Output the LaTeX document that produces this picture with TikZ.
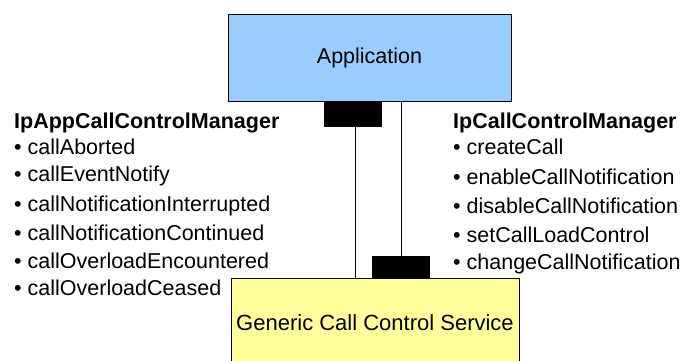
\documentclass[tikz,border=0pt]{standalone}
\usepackage{fontspec}
\setmainfont{Liberation Sans}
\begin{document}
\begin{tikzpicture}[x=1pt,y=-1pt,
  every node/.style={font=\fontsize{21.5}{25}\selectfont},
  box/.style={draw=black, line width=0.9pt, inner sep=0pt},
  port/.style={fill=black, draw=none, inner sep=0pt, minimum width=58pt},
  link/.style={draw=black, line width=1pt},
  item/.style={anchor=base west, inner sep=0pt},
  head/.style={anchor=base west, inner sep=0pt, font=\fontsize{21.5}{25}\selectfont\bfseries}]
\definecolor{appblue}{HTML}{99CCFF}
\definecolor{svcyellow}{HTML}{FFFF99}
\useasboundingbox (0,0) rectangle (681,360);

% components
\node[box, fill=appblue, minimum width=283pt, minimum height=87pt] (app) at (369.5,57.5) {Application};
\node[box, fill=svcyellow, minimum width=288pt, minimum height=90pt] (svc) at (375,323) {\fontsize{22}{25}\selectfont Generic Call Control Service};

% interface ports
\node[port, minimum height=26pt] (appport) at (353,114) {};
\node[port, minimum height=22pt] (svcport) at (401,267) {};

% connections
\draw[link] ([xshift=2pt]appport.south) -- ([xshift=2pt]appport.south |- svc.north);
\draw[link] (svcport.north |- app.south) -- (svcport.north);

% callback interface operations
\node[head] (lh) at (14,128) {IpAppCallControlManager};
\node[item] (l1) at (14,154) {• callAborted};
\node[item] (l2) at (14,181) {• callEventNotify};
\node[item] (l3) at (14,211) {• callNotificationInterrupted};
\node[item] (l4) at (14,240) {• callNotificationContinued};
\node[item] (l5) at (14,268) {• callOverloadEncountered};
\node[item] (l6) at (14,295) {• callOverloadCeased};

% service interface operations
\node[head] (rh) at (453,128) {IpCallControlManager};
\node[item] (r1) at (453,154) {• createCall};
\node[item] (r2) at (453,184) {• enableCallNotification};
\node[item] (r3) at (453,213) {• disableCallNotification};
\node[item] (r4) at (453,242) {• setCallLoadControl};
\node[item] (r5) at (453,269) {• changeCallNotification};
\end{tikzpicture}
\end{document}
